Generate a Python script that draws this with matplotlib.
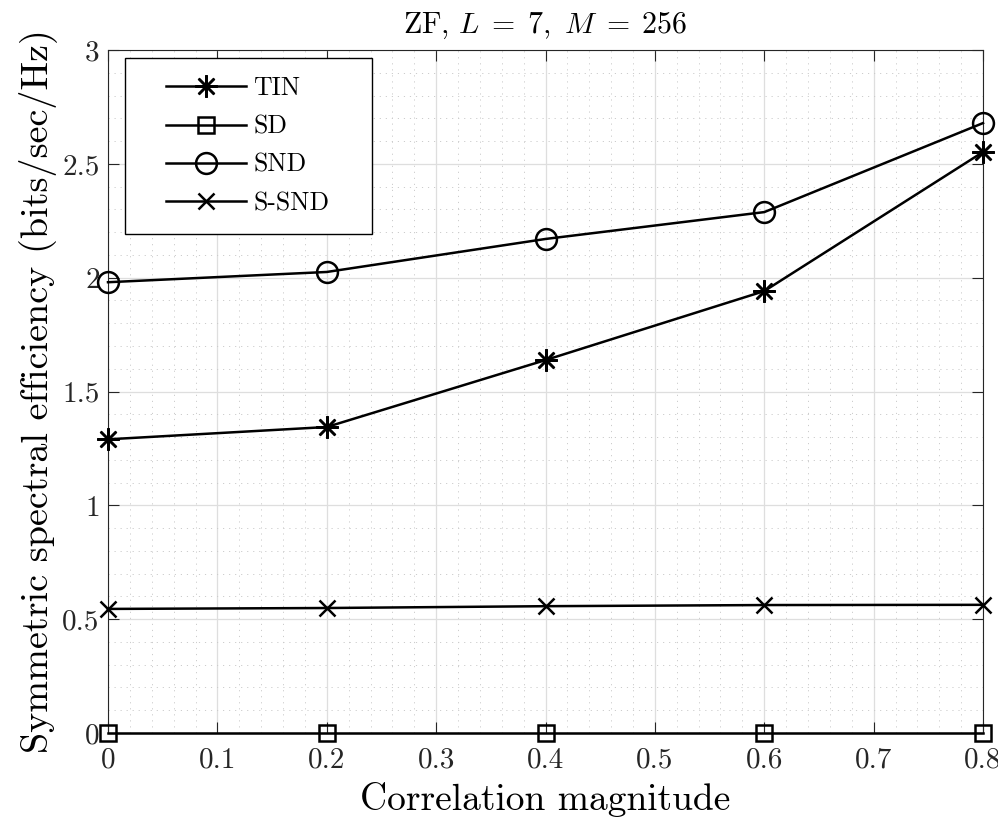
import matplotlib
matplotlib.use("Agg")
import matplotlib.pyplot as plt
from matplotlib.ticker import MultipleLocator
from matplotlib.legend_handler import HandlerLine2D

plt.rcParams['font.family'] = 'serif'
plt.rcParams['font.serif'] = ['cmr10', 'DejaVu Serif']
plt.rcParams['mathtext.fontset'] = 'cm'
plt.rcParams['axes.formatter.use_mathtext'] = True
plt.rcParams['axes.unicode_minus'] = False

x = [0, 0.2, 0.4, 0.6, 0.8]
tin = [1.29, 1.344, 1.638, 1.941, 2.552]
sd = [0, 0, 0, 0, 0]
snd = [1.98, 2.025, 2.17, 2.288, 2.679]
ssnd = [0.545, 0.549, 0.557, 0.562, 0.563]

xticks = [0, 0.1, 0.2, 0.3, 0.4, 0.5, 0.6, 0.7, 0.8]
xticklabels = ['0', '0.1', '0.2', '0.3', '0.4', '0.5', '0.6', '0.7', '0.8']
yticks = [0, 0.5, 1, 1.5, 2, 2.5, 3]
yticklabels = ['0', '0.5', '1', '1.5', '2', '2.5', '3']

fig = plt.figure(figsize=(9.98, 8.21), dpi=100)
ax = fig.add_axes([108/998, 1 - 733/821, 875/998, 683/821])

lw = 1.8
kw = dict(color='black', lw=lw, mfc='none', mec='black', mew=lw, clip_on=False, zorder=5)
ax.plot(x, tin, marker=(8, 2, 0), ms=16, label='TIN', **kw)
ax.plot(x, sd, marker='s', ms=12, label='SD', **kw)
ax.plot(x, snd, marker='o', ms=15, label='SND', **kw)
ax.plot(x, ssnd, marker='x', ms=12, label='S-SND', **kw)

ax.set_xlim(0, 0.8)
ax.set_ylim(0, 3)
ax.set_xticks(xticks)
ax.set_xticklabels(xticklabels)
ax.set_yticks(yticks)
ax.set_yticklabels(yticklabels)
ax.xaxis.set_minor_locator(MultipleLocator(0.02))
ax.yaxis.set_minor_locator(MultipleLocator(0.1))

ax.tick_params(which='major', direction='in', length=8, width=0.8, color='#262626',
               top=True, right=True, labelsize=21, labelcolor='#262626')
ax.tick_params(axis='x', which='major', pad=10)
ax.tick_params(axis='y', which='major', pad=6)
ax.tick_params(which='minor', length=0, top=True, right=True)

ax.grid(which='major', color='#dedede', lw=0.9, ls='-')
ax.grid(which='minor', color='#cccccc', lw=0.7, ls=(0, (1.2, 5)))
ax.set_axisbelow(True)
for s in ax.spines.values():
    s.set_color('#262626')
    s.set_linewidth(0.8)

ax.set_title(r'ZF, $L\;=\;7,\ M\;=\;256$', fontsize=21.5, pad=12)
ax.set_xlabel('Correlation magnitude', fontsize=27, labelpad=6)
ax.set_ylabel('Symmetric spectral efficiency (bits/sec/Hz)', fontsize=27.5, labelpad=4)

fs = 18.5
fspx = fs * 100 / 72
hm = {l: HandlerLine2D(xpad=(29 - 0.27 * fspx) / fspx) for l in ax.get_lines()}
hh = 0.3
leg = ax.legend(loc='upper left', bbox_to_anchor=(17/875, 1 - 8/683 - hh, 247/875, hh),
                mode='expand', borderaxespad=0, fontsize=fs, frameon=True, fancybox=False,
                edgecolor='black', framealpha=1, borderpad=0.72, labelspacing=0.57,
                handlelength=(245 - 143) / fspx, handletextpad=0.3, handler_map=hm)
leg.get_frame().set_linewidth(1.0)
leg.set_zorder(10)

fig.savefig('out.png', dpi=100)
